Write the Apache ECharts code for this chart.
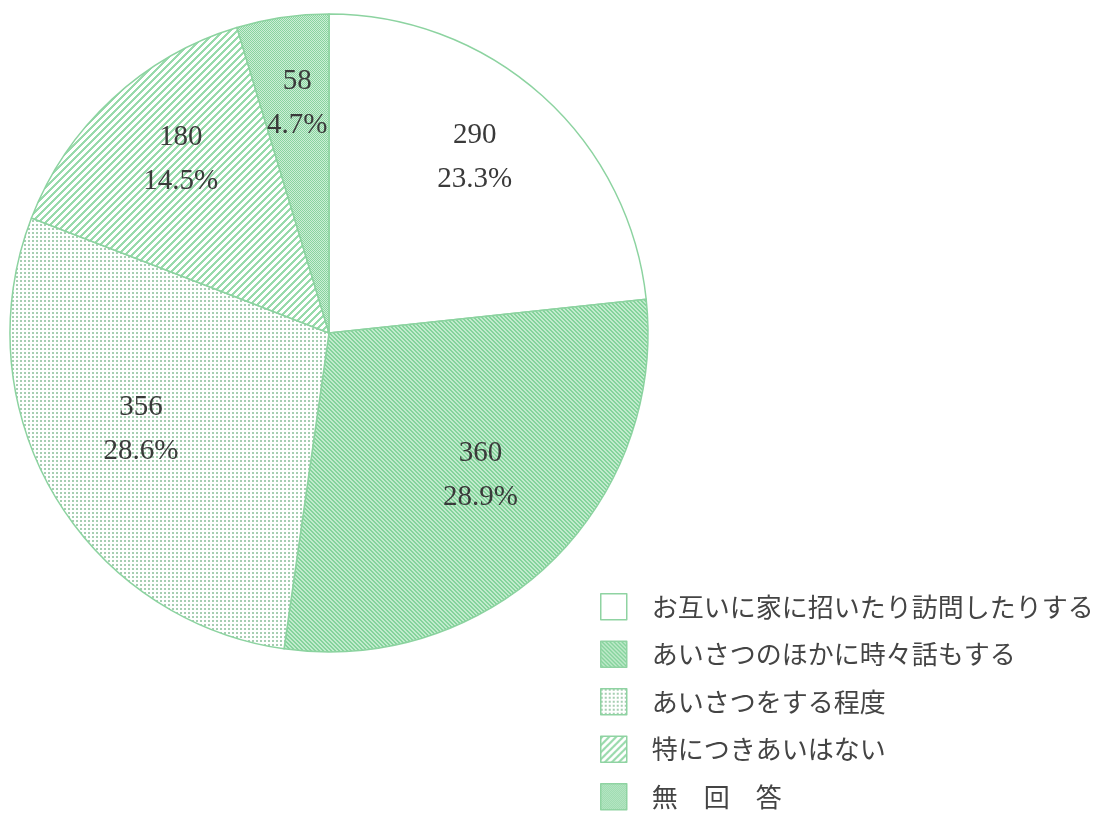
<!DOCTYPE html>
<html>
<head>
<meta charset="utf-8">
<script src="https://cdn.jsdelivr.net/npm/echarts@6/dist/echarts.min.js"></script>
<style>
  html, body { margin: 0; padding: 0; background: #fff; }
  #chart { width: 1102px; height: 828px; }
</style>
</head>
<body>
<div id="chart"></div>
<script>
// データ
const categories = [
  "お互いに家に招いたり訪問したりする",
  "あいさつのほかに時々話もする",
  "あいさつをする程度",
  "特につきあいはない",
  "無　回　答"
];
const counts = [290, 360, 356, 180, 58];
const percentLabels = ["23.3%", "28.9%", "28.6%", "14.5%", "4.7%"];

// 網掛けパターンを作る
function makePattern(size, fn) {
  const c = document.createElement("canvas");
  c.width = size;
  c.height = size;
  const ctx = c.getContext("2d");
  for (let y = 0; y < size; y++) {
    for (let x = 0; x < size; x++) {
      const col = fn(x, y);
      if (col) {
        ctx.fillStyle = col;
        ctx.fillRect(x, y, 1, 1);
      }
    }
  }
  return { image: c, repeat: "repeat" };
}

const plain = "#ffffff";
// あいさつのほかに時々話もする: 細い斜線（右下がり）
const backStripe = makePattern(8, (x, y) => ((x - y + 8) % 4 < 2 ? "#84d39b" : "#c2ebcd"));
// あいさつをする程度: 点
const dots = makePattern(4, (x, y) => (x % 4 < 2 && y % 4 < 2 ? "#a6ceb2" : "#ffffff"));
// 特につきあいはない: 斜線（右上がり）
const fwdStripe = makePattern(7, (x, y) => ((x + y) % 7 < 3 ? "#98daab" : "#ffffff"));
// 無回答: 細かい格子
const checker = makePattern(4, (x, y) => ((x + y) % 2 === 0 ? "#88d49f" : "#cdeed6"));

const fills = [plain, backStripe, dots, fwdStripe, checker];

let myChart = echarts.init(document.getElementById("chart"));

let option = {
  backgroundColor: "#ffffff",
  animation: false,
  legend: {
    orient: "vertical",
    left: 595,
    top: 588,
    itemWidth: 26,
    itemHeight: 26,
    itemGap: 20,
    icon: "rect",
    selectedMode: false,
    itemStyle: {
      borderColor: "#8fd3a2",
      borderWidth: 1.5
    },
    textStyle: {
      fontFamily: "Noto Sans CJK JP",
      fontSize: 26,
      color: "#444",
      padding: [0, 0, 0, 20]
    },
    data: categories
  },
  series: [
    {
      type: "pie",
      center: [329, 333],
      radius: 319,
      startAngle: 90,
      silent: true,
      label: { show: false },
      labelLine: { show: false },
      itemStyle: {
        borderColor: "#8cd3a0",
        borderWidth: 1.5
      },
      data: categories.map((name, i) => ({
        name: name,
        value: counts[i],
        itemStyle: { color: fills[i] }
      }))
    },
    {
      // 数値ラベル用の透明なリング
      type: "pie",
      center: [329, 319],
      radius: [195, 235],
      startAngle: 90,
      silent: true,
      itemStyle: { color: "rgba(0,0,0,0)" },
      labelLine: { show: false },
      label: {
        show: true,
        position: "inside",
        overflow: "none",
        fontFamily: "Liberation Serif",
        fontSize: 29,
        lineHeight: 44,
        color: "#3a3a3a",
        formatter: (p) => counts[p.dataIndex] + "\n" + percentLabels[p.dataIndex]
      },
      data: categories.map((name, i) => ({
        name: name,
        value: counts[i]
      }))
    }
  ]
};

myChart.setOption(option);
</script>
</body>
</html>
